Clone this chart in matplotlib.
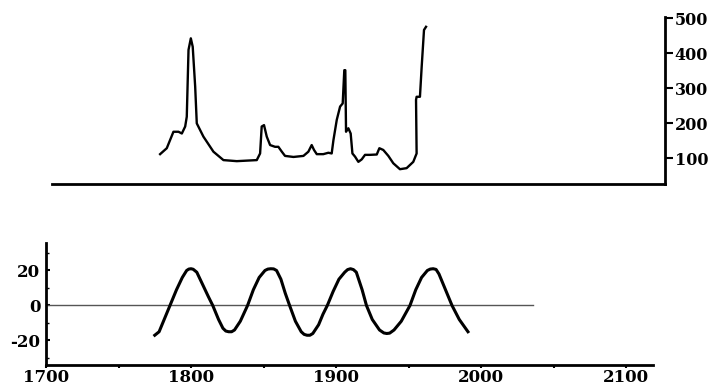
import matplotlib
matplotlib.use("Agg")
import matplotlib.pyplot as plt
from matplotlib.ticker import MultipleLocator

# top panel: series (year, value)
top_years = [1778.6, 1783.2, 1787.8, 1791.3, 1793.6, 1795.9, 1797.0, 1798.2, 1799.8,
             1801.1, 1802.8, 1803.9, 1808.5, 1815.4, 1822.3, 1831.5, 1845.3, 1847.6,
             1848.7, 1850.3, 1852.2, 1854.5, 1857.9, 1860.2, 1862.6, 1864.8, 1870.6,
             1877.5, 1880.9, 1883.2, 1884.8, 1886.7, 1891.2, 1894.7, 1897.0, 1898.2,
             1900.5, 1902.8, 1904.6, 1905.7, 1906.4, 1906.9, 1908.5, 1910.1, 1911.3,
             1913.1, 1915.4, 1917.7, 1920.0, 1923.4, 1928.1, 1929.9, 1932.6, 1936.1,
             1939.5, 1944.1, 1948.7, 1953.3, 1955.6, 1955.2, 1955.6, 1957.9, 1959.1,
             1960.7, 1962.1]
top_values = [111, 128, 175, 175, 170, 190, 218, 409, 442,
              418, 304, 199, 161, 118, 94, 91, 94, 113,
              190, 194, 161, 137, 132, 132, 118, 106, 103,
              106, 118, 137, 123, 111, 111, 115, 113, 151,
              209, 247, 256, 351, 351, 175, 185, 170, 113,
              104, 89, 96, 109, 109, 110, 128, 123, 106,
              85, 68, 71, 89, 113, 266, 275, 275, 361,
              466, 475]

# bottom panel: cycle
wave_years = [1775, 1778, 1781, 1785.5, 1790, 1794, 1797, 1798.5, 1800, 1801.5, 1804,
              1808, 1812, 1815, 1819, 1822, 1824, 1826, 1828, 1830, 1834, 1839, 1843,
              1847, 1851, 1853, 1855, 1857, 1859, 1862, 1865, 1868, 1872, 1876, 1878,
              1880, 1882, 1884, 1888, 1891, 1894, 1898, 1902, 1906, 1908, 1910, 1912,
              1914, 1918, 1921, 1925, 1930, 1933, 1935, 1937, 1940, 1945, 1951, 1955,
              1959, 1963, 1965, 1967, 1969, 1971, 1975, 1980, 1985, 1991]
wave_values = [-17, -15, -9, 0, 9, 16, 20, 20.8, 21, 20.7, 19,
               12, 5, 0, -8, -13, -14.6, -15, -15, -14, -9, 0, 9,
               16, 20, 20.8, 21, 20.9, 20, 15, 7, 0, -9, -15, -16.5,
               -17, -17, -16, -11, -5, 0, 8, 15, 19, 20.5, 21, 20.5,
               19, 9, 0, -8, -14, -15.7, -16, -15.8, -14, -9, 0, 9,
               16, 20, 20.8, 21, 20.6, 18, 10, 0, -8, -15]

zero_line = [1700, 2036]

x_ticks = [1700, 1800, 1900, 2000, 2100]
left_ticks = [-20, 0, 20]
right_ticks = [100, 200, 300, 400, 500]

W, H = 715, 387
fig = plt.figure(figsize=(W / 100, H / 100), dpi=100)
font = dict(family="DejaVu Serif", weight="bold")

# top panel
ax1 = fig.add_axes([52 / W, (H - 184) / H, (665 - 52) / W, (184 - 17) / H])
ax1.plot(top_years, top_values, color="black", lw=1.7, solid_joinstyle="round")
ax1.set_xlim(1704, 2127)
ax1.set_ylim(25.7, 503)
for s in ["top", "left"]:
    ax1.spines[s].set_visible(False)
for s in ["bottom", "right"]:
    ax1.spines[s].set_linewidth(2)
ax1.set_xticks([])
ax1.yaxis.tick_right()
ax1.set_yticks(right_ticks)
ax1.set_yticklabels([str(v) for v in right_ticks], fontsize=11.5, **font)
ax1.tick_params(axis="y", direction="out", length=6, width=1.5, pad=1)

# bottom panel
ax2 = fig.add_axes([46 / W, (H - 365) / H, (653 - 46) / W, (365 - 243) / H])
ax2.plot(zero_line, [0, 0], color="#555555", lw=1)
ax2.plot(wave_years, wave_values, color="black", lw=2.2, solid_joinstyle="round")
ax2.set_xlim(1700, 2118.6)
ax2.set_ylim(-34, 35.7)
for s in ["top", "right"]:
    ax2.spines[s].set_visible(False)
for s in ["bottom", "left"]:
    ax2.spines[s].set_linewidth(2)
ax2.set_xticks(x_ticks)
ax2.set_xticklabels([str(v) for v in x_ticks], fontsize=12, **font)
ax2.xaxis.set_minor_locator(MultipleLocator(50))
ax2.set_yticks(left_ticks)
ax2.set_yticklabels([str(v) for v in left_ticks], fontsize=12, **font)
ax2.yaxis.set_minor_locator(MultipleLocator(10))
ax2.tick_params(axis="x", which="both", direction="out", length=2, width=1.5, pad=1)
ax2.tick_params(axis="y", which="major", direction="in", length=3, width=1.5, pad=4)
ax2.tick_params(axis="y", which="minor", direction="in", length=2, width=1)

fig.savefig("out.png", dpi=100)
